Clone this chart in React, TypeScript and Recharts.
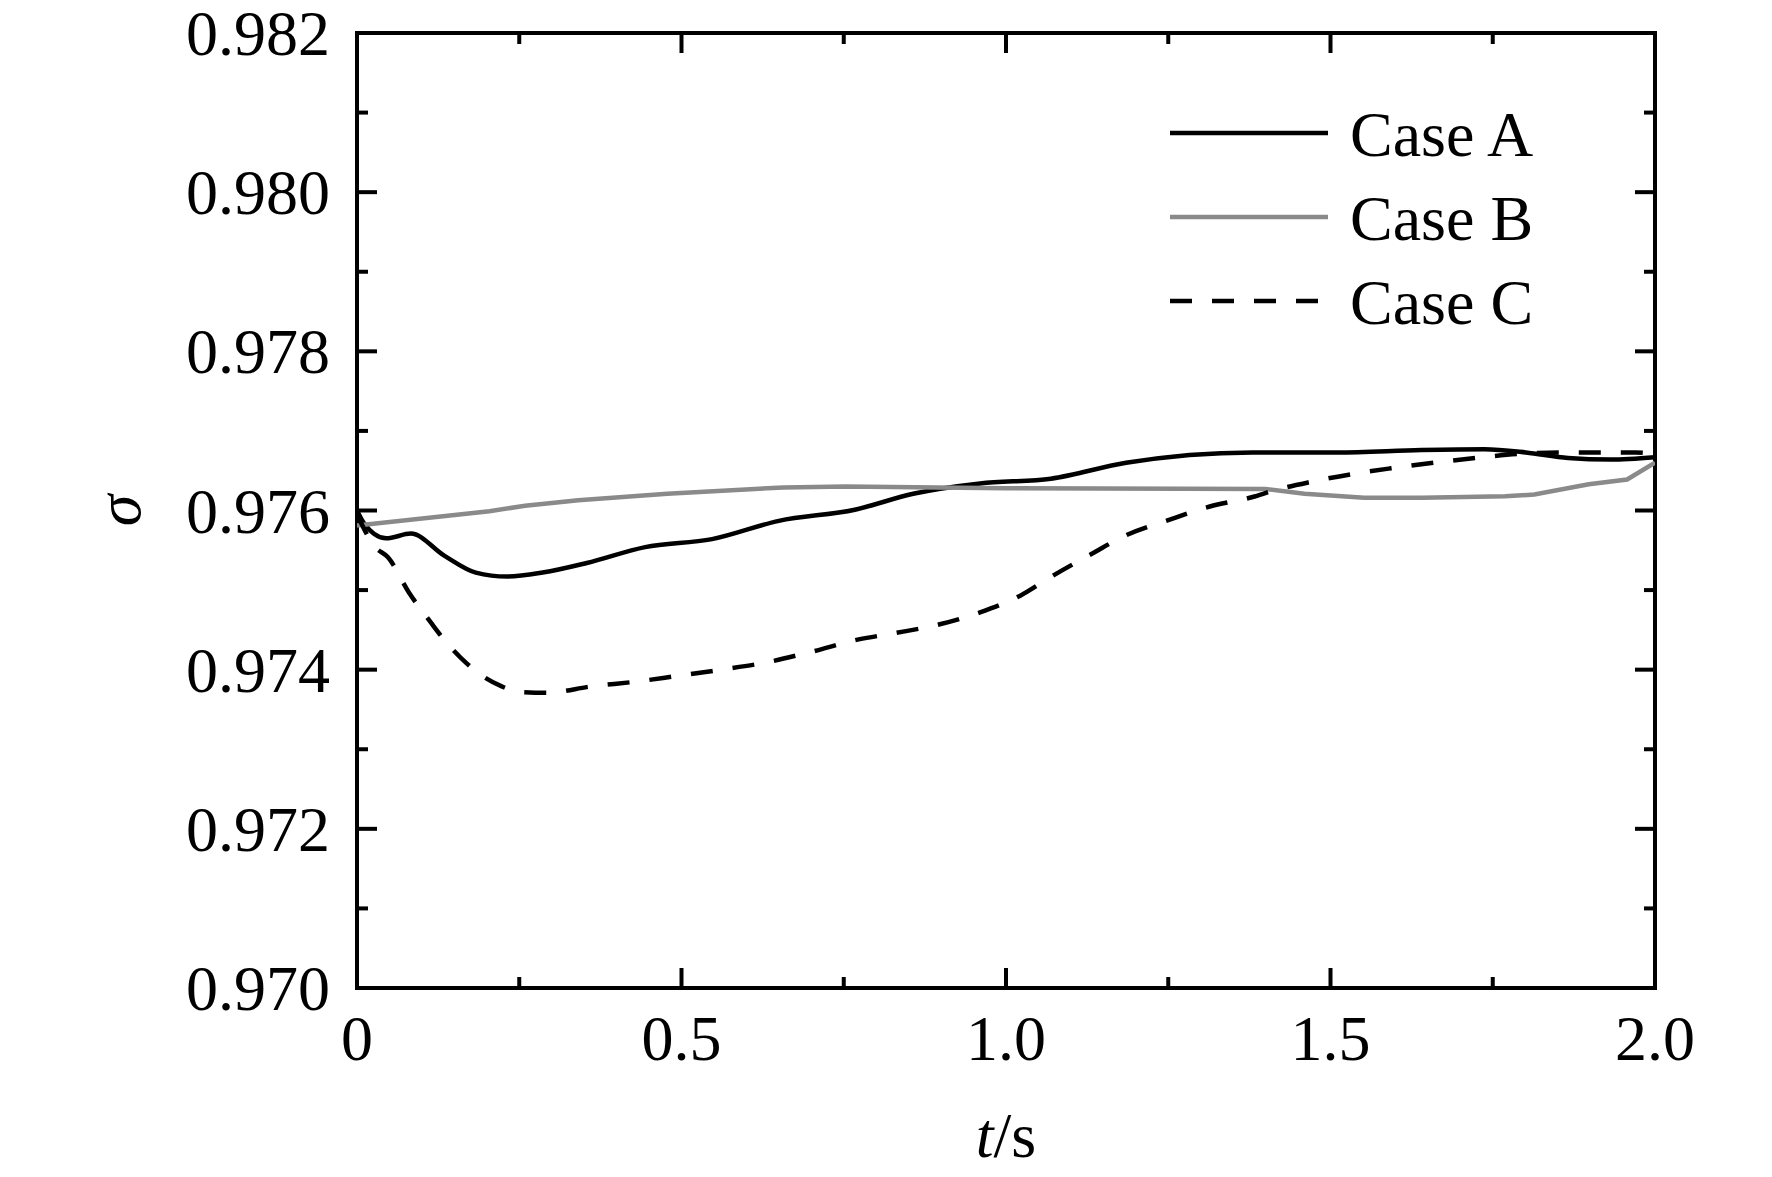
import React from "react";
import {
  Legend,
  Line,
  LineChart,
  ReferenceArea,
  XAxis,
  YAxis,
} from "recharts";

// --- data ---
const CASE_A_T = [
  0, 0.01, 0.045, 0.083, 0.135, 0.183, 0.231, 0.286, 0.354, 0.444, 0.547,
  0.65, 0.767, 0.857, 0.96, 1.069, 1.185, 1.38, 1.51, 1.64, 1.737, 1.801,
  1.866, 1.931, 2.0,
];
const CASE_A_SIGMA = [
  0.976, 0.97585, 0.97565, 0.97571, 0.97543, 0.97522, 0.97517, 0.97522,
  0.97534, 0.97554, 0.97564, 0.97587, 0.97601, 0.97621, 0.97634, 0.9764,
  0.9766, 0.97673, 0.97673, 0.97676, 0.97677, 0.97673, 0.97666, 0.97664,
  0.97667,
];

const CASE_B_T = [
  0, 0.204, 0.259, 0.341, 0.478, 0.657, 0.753, 1.0, 1.4, 1.46, 1.552, 1.64,
  1.769, 1.814, 1.898, 1.957, 2.0,
];
const CASE_B_SIGMA = [
  0.97581, 0.97599, 0.97606, 0.97613, 0.97621, 0.97629, 0.9763, 0.97628,
  0.97627, 0.97621, 0.97616, 0.97616, 0.97618, 0.9762, 0.97633, 0.97639,
  0.9766,
];

const CASE_C_T = [
  0, 0.028, 0.048, 0.08, 0.114, 0.134, 0.169, 0.19, 0.223, 0.251, 0.293,
  0.361, 0.43, 0.492, 0.561, 0.63, 0.698, 0.773, 0.829, 0.898, 0.96, 1.022,
  1.07, 1.133, 1.185, 1.25, 1.314, 1.38, 1.412, 1.47, 1.535, 1.593, 1.659,
  1.724, 1.788, 1.853, 1.911, 1.97, 2.0,
];
const CASE_C_SIGMA = [
  0.97595, 0.97554, 0.97541, 0.97497, 0.97459, 0.97438, 0.97408, 0.97394,
  0.97379, 0.97372, 0.97371, 0.97379, 0.97385, 0.97392, 0.974, 0.97409,
  0.97422, 0.97438, 0.97446, 0.97457, 0.97472, 0.97493, 0.97517, 0.97546,
  0.97569, 0.97588, 0.97605, 0.97617, 0.97625, 0.97636, 0.97646, 0.97653,
  0.9766, 0.97666, 0.97671, 0.97673, 0.97673, 0.97673, 0.97671,
];

const X_TICKS = [0, 0.25, 0.5, 0.75, 1, 1.25, 1.5, 1.75, 2];
const X_LABELS = ["0", "", "0.5", "", "1.0", "", "1.5", "", "2.0"];
const Y_TICKS = [
  0.97, 0.971, 0.972, 0.973, 0.974, 0.975, 0.976, 0.977, 0.978, 0.979, 0.98,
  0.981, 0.982,
];

const SERIES = [
  { key: "a", name: "Case A", color: "#000", dash: undefined },
  { key: "b", name: "Case B", color: "#8a8a8a", dash: undefined },
  { key: "c", name: "Case C", color: "#000", dash: "22 20" },
];

const zip = (ts: number[], vs: number[]) =>
  ts.map((t, i) => ({ t, v: vs[i] }));

const DATA: Record<string, { t: number; v: number }[]> = {
  a: zip(CASE_A_T, CASE_A_SIGMA),
  b: zip(CASE_B_T, CASE_B_SIGMA),
  c: zip(CASE_C_T, CASE_C_SIGMA),
};

// layout
const W = 1772;
const H = 1177;
const PLOT_LEFT = 357;
const PLOT_TOP = 33;
const PLOT_RIGHT = 1655;
const PLOT_BOTTOM = 988;
const FONT = '"Liberation Serif", "Times New Roman", serif';
const FS = 64;
const MAJOR = 20;
const MINOR = 11;

function YTick(props: any) {
  const { y, payload } = props;
  const v: number = payload.value;
  const k = Math.round(v * 1000);
  const major = k % 2 === 0;
  const len = major ? MAJOR : MINOR;
  const edge = k === 970 || k === 982;
  return (
    <g>
      {!edge && (
        <>
          <line x1={PLOT_LEFT} x2={PLOT_LEFT + len} y1={y} y2={y} stroke="#000" strokeWidth={4} />
          <line x1={PLOT_RIGHT - len} x2={PLOT_RIGHT} y1={y} y2={y} stroke="#000" strokeWidth={4} />
        </>
      )}
      {major && (
        <text x={330} y={y + 22} textAnchor="end" fontFamily={FONT} fontSize={FS} fill="#000">
          {v.toFixed(3)}
        </text>
      )}
    </g>
  );
}

function XTick(props: any) {
  const { x, payload, index } = props;
  const label = X_LABELS[index] ?? "";
  const len = label ? MAJOR : MINOR;
  const edge = payload.value === 0 || payload.value === 2;
  return (
    <g>
      {!edge && (
        <>
          <line x1={x} x2={x} y1={PLOT_BOTTOM} y2={PLOT_BOTTOM - len} stroke="#000" strokeWidth={4} />
          <line x1={x} x2={x} y1={PLOT_TOP} y2={PLOT_TOP + len} stroke="#000" strokeWidth={4} />
        </>
      )}
      {label && (
        <text x={x} y={PLOT_BOTTOM + 72} textAnchor="middle" fontFamily={FONT} fontSize={FS} fill="#000">
          {label}
        </text>
      )}
    </g>
  );
}

function LegendBox() {
  return (
    <svg width={420} height={260} style={{ display: "block" }}>
      {SERIES.map((s, i) => {
        const cy = 43 + i * 84;
        return (
          <g key={s.key}>
            <line
              x1={10}
              x2={168}
              y1={cy}
              y2={cy}
              stroke={s.color}
              strokeWidth={4.5}
              strokeDasharray={s.dash}
            />
            <text x={190} y={cy + 23} fontFamily={FONT} fontSize={FS} fill="#000">
              {s.name}
            </text>
          </g>
        );
      })}
    </svg>
  );
}

export default function App() {
  return (
    <div style={{ position: "fixed", left: 0, top: 0, width: W, height: H, background: "#fff" }}>
      <LineChart
        width={W}
        height={H}
        margin={{ top: PLOT_TOP, right: W - PLOT_RIGHT, bottom: 0, left: 0 }}
      >
        <XAxis
          type="number"
          dataKey="t"
          domain={[0, 2]}
          ticks={X_TICKS}
          allowDataOverflow
          height={H - PLOT_BOTTOM}
          axisLine={false}
          tickLine={false}
          tick={(p: any) => <XTick {...p} />}
          label={{
            content: (p: any) => {
              const vb = p.viewBox;
              return (
                <text
                  x={vb.x + vb.width / 2}
                  y={PLOT_BOTTOM + 169}
                  textAnchor="middle"
                  fontFamily={FONT}
                  fontSize={FS}
                  fill="#000"
                >
                  <tspan fontStyle="italic">t</tspan>/s
                </text>
              );
            },
          }}
        />
        <YAxis
          type="number"
          domain={[0.97, 0.982]}
          ticks={Y_TICKS}
          allowDataOverflow
          width={PLOT_LEFT}
          axisLine={false}
          tickLine={false}
          tick={(p: any) => <YTick {...p} />}
          label={{
            content: () => (
              <text
                x={118}
                y={(PLOT_TOP + PLOT_BOTTOM) / 2}
                transform={`rotate(-90 118 ${(PLOT_TOP + PLOT_BOTTOM) / 2})`}
                textAnchor="middle"
                dominantBaseline="central"
                fontFamily={FONT}
                fontStyle="italic"
                fontSize={FS}
                fill="#000"
              >
                σ
              </text>
            ),
          }}
        />
        <Legend
          layout="horizontal"
          verticalAlign="middle"
          content={() => <LegendBox />}
          wrapperStyle={{ left: 1160, top: 90, width: 420, height: 260 }}
        />
        {SERIES.map((s) => (
          <Line
            key={s.key}
            data={DATA[s.key]}
            dataKey="v"
            name={s.name}
            type={s.key === "b" ? "linear" : "monotone"}
            stroke={s.color}
            strokeWidth={4.5}
            strokeDasharray={s.dash}
            dot={false}
            activeDot={false}
            isAnimationActive={false}
          />
        ))}
        <ReferenceArea
          x1={0}
          x2={2}
          y1={0.97}
          y2={0.982}
          fill="none"
          stroke="#000"
          strokeWidth={4}
          ifOverflow="visible"
        />
      </LineChart>
    </div>
  );
}
